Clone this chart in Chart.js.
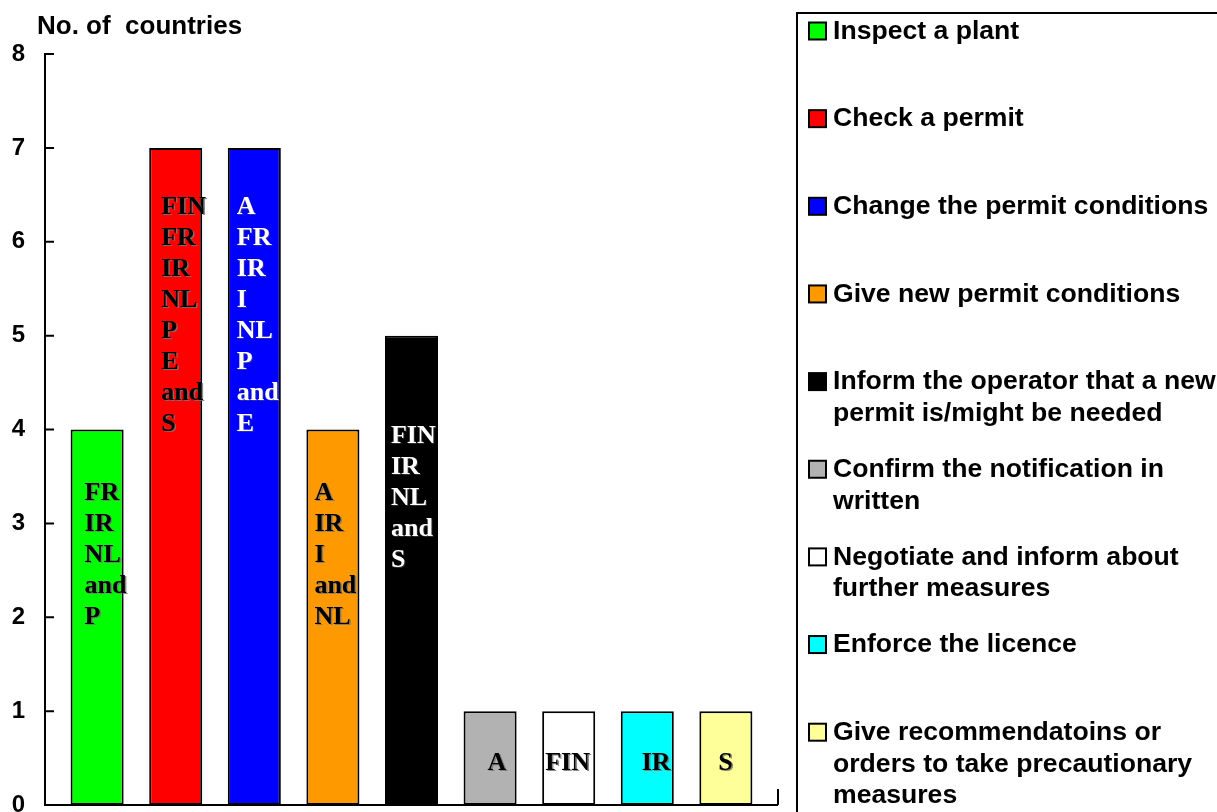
<!DOCTYPE html>
<html>
<head>
<meta charset="utf-8">
<script src="https://cdn.jsdelivr.net/npm/chart.js@4"></script>
<style>
  html, body { margin: 0; padding: 0; background: #ffffff; }
  canvas { display: block; }
</style>
</head>
<body>
<canvas id="chart" width="1217" height="812"></canvas>
<script>
// Actions taken by the authority (one bar each), legend text split into lines
const actions = [
  ['Inspect a plant'],
  ['Check a permit'],
  ['Change the permit conditions'],
  ['Give new permit conditions'],
  ['Inform the operator that a new', 'permit is/might be needed'],
  ['Confirm the notification in', 'written'],
  ['Negotiate and inform about', 'further measures'],
  ['Enforce the licence'],
  ['Give recommendatoins or', 'orders to take precautionary', 'measures']
];

// Number of countries per action
const countryCounts = [4, 7, 7, 4, 5, 1, 1, 1, 1];

// Countries written inside each bar
const countryLists = [
  ['FR', 'IR', 'NL', 'and', 'P'],
  ['FIN', 'FR', 'IR', 'NL', 'P', 'E', 'and', 'S'],
  ['A', 'FR', 'IR', 'I', 'NL', 'P', 'and', 'E'],
  ['A', 'IR', 'I', 'and', 'NL'],
  ['FIN', 'IR', 'NL', 'and', 'S'],
  ['A'],
  ['FIN'],
  ['IR'],
  ['S']
];

const yAxisTitle = 'No. of  countries';
const yMin = 0;
const yMax = 8;

// Styling
const barColors = ['#00FF00', '#FF0000', '#0000FF', '#FF9900', '#000000', '#B2B2B2', '#FFFFFF', '#00FFFF', '#FFFF99'];
const barTextColors = ['#000', '#000', '#fff', '#000', '#fff', '#000', '#000', '#000', '#000'];
const barTextShift = [[14, 64], [12, 59], [9, 59], [8, 64], [6, 101], [24, 52], [3, 52], [21, 52], [19, 52]];

const SANS = "'Liberation Sans', Arial, sans-serif";
const SERIF = "'Liberation Serif', 'Times New Roman', serif";

const datasets = countryCounts.map((v, i) => ({
  label: actions[i],
  data: [v],
  backgroundColor: barColors[i],
  borderColor: '#000000',
  borderWidth: 2,
  borderSkipped: false,
  categoryPercentage: 0.965,
  barPercentage: 0.675
}));

// Country names inside the bars
const barTextPlugin = {
  id: 'barText',
  afterDatasetsDraw(chart) {
    const ctx = chart.ctx;
    ctx.save();
    ctx.font = 'bold 26px ' + SERIF;
    ctx.textAlign = 'left';
    ctx.textBaseline = 'middle';
    chart.data.datasets.forEach((ds, i) => {
      const bar = chart.getDatasetMeta(i).data[0];
      const left = bar.x - bar.width / 2;
      const [dx, dy] = barTextShift[i];
      const lines = countryLists[i];
      const dark = barTextColors[i] === '#000';
      ctx.fillStyle = barTextColors[i];
      ctx.shadowColor = dark ? 'rgba(120,120,120,0.85)' : 'rgba(90,90,90,0.5)';
      ctx.shadowOffsetX = dark ? 1.5 : 1;
      ctx.shadowOffsetY = 1;
      ctx.shadowBlur = 0;
      lines.forEach((t, k) => {
        ctx.fillText(t, left + dx, bar.y + dy + k * 31);
      });
    });
    ctx.restore();
  }
};

// Axis lines, inward tick marks, axis title and the boxed legend
const framePlugin = {
  id: 'frame',
  afterDraw(chart) {
    const ctx = chart.ctx;
    const a = chart.chartArea;
    const y = chart.scales.y;
    ctx.save();
    ctx.strokeStyle = '#000';
    ctx.lineWidth = 2;
    ctx.lineCap = 'butt';
    ctx.beginPath();
    ctx.moveTo(a.left, y.getPixelForValue(yMax) - 1);
    ctx.lineTo(a.left, a.bottom);
    ctx.lineTo(a.right, a.bottom);
    ctx.moveTo(a.right, a.bottom);
    ctx.lineTo(a.right, a.bottom - 16);
    y.ticks.forEach(t => {
      const py = y.getPixelForValue(t.value);
      ctx.moveTo(a.left, py);
      ctx.lineTo(a.left + 9, py);
    });
    ctx.stroke();

    ctx.fillStyle = '#000';
    ctx.font = 'bold 26px ' + SANS;
    ctx.textAlign = 'left';
    ctx.textBaseline = 'middle';
    ctx.fillText(yAxisTitle, 37, 27);

    // legend frame (runs off the right and bottom edge)
    ctx.strokeRect(797, 13, 600, 900);
    ctx.font = 'bold 26.6px ' + SANS;
    chart.data.datasets.forEach((ds, i) => {
      const top = 31.5 + i * 87.65;
      ctx.fillStyle = ds.backgroundColor;
      ctx.fillRect(809, top - 9, 17, 17);
      ctx.strokeRect(809, top - 9, 17, 17);
      ctx.fillStyle = '#000';
      ds.label.forEach((line, k) => {
        ctx.fillText(line, 833, top + k * 31.5);
      });
    });
    ctx.restore();
  }
};

new Chart(document.getElementById('chart'), {
  type: 'bar',
  data: { labels: [''], datasets },
  options: {
    responsive: false,
    animation: false,
    devicePixelRatio: 1,
    layout: { padding: { left: 0, top: 54, right: 439, bottom: 7 } },
    plugins: {
      legend: { display: false },
      tooltip: { enabled: false }
    },
    scales: {
      x: { display: false },
      y: {
        min: yMin,
        max: yMax,
        ticks: {
          stepSize: 1,
          color: '#000',
          padding: 20,
          font: { family: SANS, size: 24, weight: 'bold' }
        },
        grid: { display: false, drawTicks: false },
        border: { display: false },
        afterFit(scale) {
          scale.width = 45;
          scale.paddingTop = 0;
          scale.paddingBottom = 0;
        }
      }
    }
  },
  plugins: [barTextPlugin, framePlugin]
});
</script>
</body>
</html>
